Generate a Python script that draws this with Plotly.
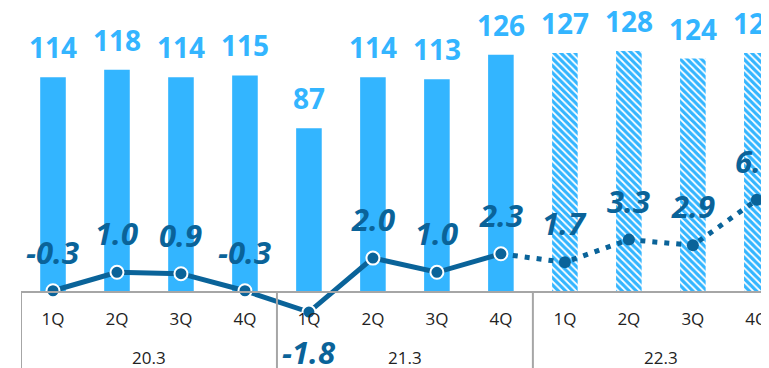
import plotly.graph_objects as go

BAR_COLOR = "#33B5FF"
LINE_COLOR = "#0A6399"
GRID_GRAY = "#A6A6A6"

groups = ["20.3", "21.3", "22.3"]
quarters = ["1Q", "2Q", "3Q", "4Q"] * 3
sales = [114, 118, 114, 115, 87, 114, 113, 126, 127, 128, 124, 127]
growth = [-0.3, 1.0, 0.9, -0.3, -1.8, 2.0, 1.0, 2.3, 1.7, 3.3, 2.9, 6.1]
n_actual = 8  # first 8 quarters are actuals, rest are forecasts

# the page body has an 8px margin, so the figure is sized to end at the window edge
W, H = 761, 360
AXIS_Y = 284  # pixel row of the category axis line inside the figure
axis_pos = (H - AXIS_Y) / H

idx = list(range(len(sales)))
per_group = len(quarters) // len(groups)

fig = go.Figure()

fig.add_trace(
    go.Bar(
        x=idx[:n_actual],
        y=sales[:n_actual],
        marker_color=BAR_COLOR,
        marker_line_width=0,
        width=0.4,
        hoverinfo="skip",
    )
)
fig.add_trace(
    go.Bar(
        x=idx[n_actual:],
        y=sales[n_actual:],
        marker=dict(
            color="white",
            line_width=0,
            pattern=dict(shape="\\", fgcolor=BAR_COLOR, bgcolor="white",
                         size=5, solidity=0.65, fillmode="replace"),
        ),
        width=0.4,
        hoverinfo="skip",
    )
)

# forecast growth, dotted
fig.add_trace(
    go.Scatter(
        x=idx[n_actual - 1:],
        y=growth[n_actual - 1:],
        yaxis="y2",
        mode="lines",
        line=dict(color=LINE_COLOR, width=5, dash="5px,7px"),
        hoverinfo="skip",
    )
)
fig.add_trace(
    go.Scatter(
        x=idx[n_actual:],
        y=growth[n_actual:],
        yaxis="y2",
        mode="markers",
        marker=dict(size=12, color=LINE_COLOR),
        cliponaxis=False,
        hoverinfo="skip",
    )
)
# actual growth, solid
fig.add_trace(
    go.Scatter(
        x=idx[:n_actual],
        y=growth[:n_actual],
        yaxis="y2",
        mode="lines+markers",
        line=dict(color=LINE_COLOR, width=5),
        marker=dict(size=13, color=LINE_COLOR, line=dict(width=2, color="white")),
        cliponaxis=False,
        hoverinfo="skip",
    )
)

annotations = []
for i, v in enumerate(sales):
    annotations.append(dict(
        x=i, y=v, xref="x", yref="y", text=str(v), showarrow=False,
        yanchor="bottom", yshift=9,
        font=dict(size=28, color=BAR_COLOR, family="Open Sans", weight="bold"),
    ))
for i, v in enumerate(growth):
    below = v < -1
    annotations.append(dict(
        x=i, y=v, xref="x", yref="y2", text=f"<i>{v:.1f}</i>", showarrow=False,
        yanchor="top" if below else "bottom",
        yshift=-17 if below else 16,
        font=dict(size=31, color=LINE_COLOR, family="Open Sans", weight="bold"),
    ))
for g, name in enumerate(groups):
    annotations.append(dict(
        x=g * per_group + (per_group - 1) / 2, y=(H - 349) / H,
        xref="x", yref="paper", text=name, showarrow=False, yanchor="middle",
        font=dict(size=17, color="#222222", family="Open Sans"),
    ))

shapes = []
for g in range(len(groups) + 1):
    shapes.append(dict(
        type="line", xref="x", yref="paper",
        x0=g * per_group - 0.5, x1=g * per_group - 0.5, y0=0, y1=axis_pos,
        line=dict(color=GRID_GRAY, width=2),
    ))

fig.update_layout(
    width=W,
    height=H,
    margin=dict(l=13, r=0, t=0, b=0),
    paper_bgcolor="white",
    plot_bgcolor="white",
    showlegend=False,
    annotations=annotations,
    shapes=shapes,
    xaxis=dict(
        range=[-0.5, 11.19],
        anchor="free",
        position=axis_pos,
        automargin=False,
        showline=True,
        linecolor=GRID_GRAY,
        linewidth=2,
        showgrid=False,
        zeroline=False,
        tickmode="array",
        tickvals=idx,
        ticktext=quarters,
        ticks="",
        ticklabelstandoff=12,
        tickfont=dict(size=17, color="#222222", family="Open Sans"),
    ),
    yaxis=dict(range=[-40.6, 150.9], visible=False, showgrid=False,
               zeroline=False, automargin=False),
    yaxis2=dict(range=[-5.74, 19.61], overlaying="y", visible=False,
                showgrid=False, zeroline=False, automargin=False),
)

fig.write_html("out.html")
